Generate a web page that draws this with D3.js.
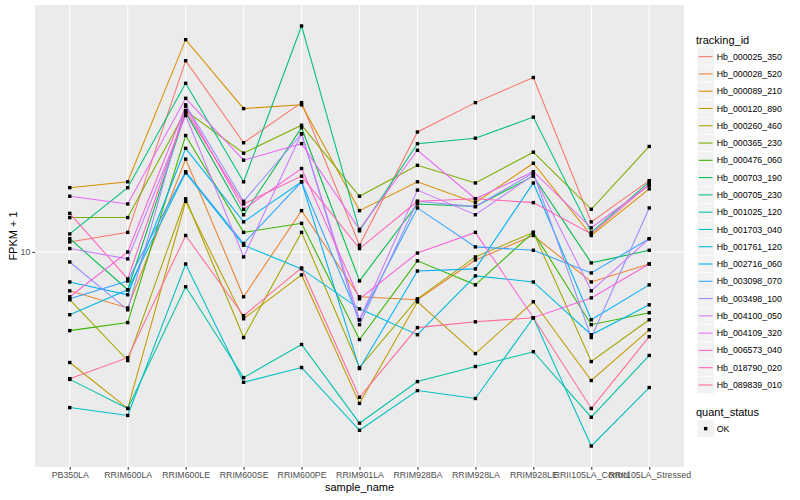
<!DOCTYPE html>
<html>
<head>
<meta charset="utf-8">
<script src="https://cdn.jsdelivr.net/npm/d3@7"></script>
<style>
  body { margin: 0; background: #fff; }
  text { font-family: "Liberation Sans", Arial, sans-serif; }
</style>
</head>
<body>
<div id="chart"></div>
<script>
// samples on the x axis
const samples = ["PB350LA", "RRIM600LA", "RRIM600LE", "RRIM600SE", "RRIM600PE", "RRIM901LA",
  "RRIM928BA", "RRIM928LA", "RRIM928LE", "RRII105LA_Control", "RRII105LA_Stressed"];

// gene ids (legend order)
const trackingIds = ["Hb_000025_350", "Hb_000028_520", "Hb_000089_210", "Hb_000120_890",
  "Hb_000260_460", "Hb_000365_230", "Hb_000476_060", "Hb_000703_190", "Hb_000705_230",
  "Hb_001025_120", "Hb_001703_040", "Hb_001761_120", "Hb_002716_060", "Hb_003098_070",
  "Hb_003498_100", "Hb_004100_050", "Hb_004109_320", "Hb_006573_040", "Hb_018790_020",
  "Hb_089839_010"];

// FPKM + 1, one array per tracking_id, in sample order
const hb000025_350 = [10.6, 11.2, 30.2, 18.8, 23.7, 10.4, 20.0, 23.7, 27.4, 11.9, 15.1];
const hb000028_520 = [7.99, 7.24, 17.1, 7.72, 12.7, 7.72, 7.59, 9.55, 11.0, 8.41, 9.33];
const hb000089_210 = [14.5, 15.0, 34.1, 22.9, 23.4, 12.7, 15.0, 13.3, 16.7, 11.0, 14.4];
const hb000120_890 = [5.28, 4.05, 13.4, 6.80, 8.76, 4.17, 7.50, 5.56, 7.50, 4.76, 6.38];
const hb000260_460 = [7.59, 5.34, 13.6, 6.10, 11.2, 5.13, 7.63, 9.72, 11.2, 5.31, 6.76];
const hb000365_230 = [12.2, 12.2, 22.6, 17.7, 20.8, 13.8, 16.5, 14.9, 17.8, 12.8, 18.4];
const hb000476_060 = [6.35, 6.65, 19.6, 11.2, 11.8, 6.03, 9.50, 8.27, 11.2, 6.57, 7.04];
const hb000703_190 = [10.8, 8.04, 22.4, 12.4, 20.5, 8.46, 13.2, 13.0, 15.5, 9.39, 10.1];
const hb000705_230 = [11.1, 14.5, 26.5, 15.0, 36.9, 11.3, 18.7, 19.3, 21.8, 11.2, 15.0];
const hb001025_120 = [4.79, 4.05, 8.18, 4.84, 5.86, 3.72, 4.73, 5.16, 5.62, 3.85, 5.50];
const hb001703_040 = [4.07, 3.89, 9.33, 4.71, 5.13, 3.57, 4.49, 4.29, 6.84, 3.26, 4.57];
const hb001761_120 = [6.96, 8.04, 15.8, 10.4, 9.07, 7.20, 6.20, 8.71, 8.41, 6.20, 7.37];
const hb002716_060 = [8.41, 7.81, 18.2, 11.9, 15.0, 5.10, 8.96, 9.07, 14.9, 6.76, 8.27];
const hb003098_070 = [7.63, 8.46, 15.9, 10.5, 15.0, 6.76, 12.9, 10.3, 10.1, 8.86, 10.8];
const hb003498_100 = [9.44, 7.16, 23.4, 13.4, 19.8, 6.57, 13.4, 13.0, 15.8, 6.10, 12.9];
const hb004100_050 = [10.2, 9.61, 22.0, 9.72, 19.8, 6.76, 14.3, 12.4, 15.6, 7.99, 10.8];
const hb004109_320 = [13.8, 13.2, 24.3, 17.0, 18.7, 11.4, 18.0, 13.6, 15.9, 11.5, 14.7];
const hb006573_040 = [7.72, 10.0, 23.2, 12.8, 16.2, 7.63, 9.94, 11.2, 6.84, 7.67, 9.33];
const hb018790_020 = [12.5, 8.56, 22.6, 13.2, 15.5, 10.2, 13.4, 13.6, 13.3, 11.1, 14.8];
const hb089839_010 = [4.81, 5.43, 11.0, 6.92, 9.12, 4.32, 6.46, 6.68, 6.84, 4.05, 6.13];

const seriesValues = [hb000025_350, hb000028_520, hb000089_210, hb000120_890, hb000260_460,
  hb000365_230, hb000476_060, hb000703_190, hb000705_230, hb001025_120, hb001703_040,
  hb001761_120, hb002716_060, hb003098_070, hb003498_100, hb004100_050, hb004109_320,
  hb006573_040, hb018790_020, hb089839_010];

const yTicks = [10];
const statusLevels = ["OK"];

// ggplot2 default hue palette for 20 levels
const colors = ["#F8766D", "#EA8331", "#D89000", "#C09B00", "#A3A500", "#7CAE00", "#39B600",
  "#00BB4E", "#00BF7D", "#00C1A3", "#00BFC4", "#00BAE0", "#00B0F6", "#35A2FF", "#9590FF",
  "#C77CFF", "#E76BF3", "#FA62DB", "#FF62BC", "#FF6C91"];

const W = 800, H = 500;
const panel = { left: 35, right: 684, top: 5, bottom: 467 };
const pt = 3.4; // point square size

const svg = d3.select("#chart").append("svg")
  .attr("width", W).attr("height", H);

// Scales
const x = d3.scalePoint().domain(samples)
  .range([panel.left, panel.right]).padding(0.6);

const allVals = seriesValues.flat();
const lmin = Math.log10(d3.min(allVals)), lmax = Math.log10(d3.max(allVals));
const ex = (lmax - lmin) * 0.05;
const y = d3.scaleLog()
  .domain([Math.pow(10, lmin - ex), Math.pow(10, lmax + ex)])
  .range([panel.bottom, panel.top]);

// Panel background + grid
svg.append("rect")
  .attr("x", panel.left).attr("y", panel.top)
  .attr("width", panel.right - panel.left).attr("height", panel.bottom - panel.top)
  .attr("fill", "#EBEBEB");

svg.append("g").selectAll("line").data(samples).enter().append("line")
  .attr("x1", d => x(d)).attr("x2", d => x(d))
  .attr("y1", panel.top).attr("y2", panel.bottom)
  .attr("stroke", "#fff").attr("stroke-width", 1.07);

svg.append("g").selectAll("line").data(yTicks).enter().append("line")
  .attr("x1", panel.left).attr("x2", panel.right)
  .attr("y1", d => y(d)).attr("y2", d => y(d))
  .attr("stroke", "#fff").attr("stroke-width", 1.07);

// Axes
const xAxis = svg.append("g")
  .attr("transform", "translate(0," + panel.bottom + ")")
  .call(d3.axisBottom(x).tickSize(2.7).tickPadding(2));
const yAxis = svg.append("g")
  .attr("transform", "translate(" + panel.left + ",0)")
  .call(d3.axisLeft(y).tickValues(yTicks).tickFormat(d3.format("d")).tickSize(2.7).tickPadding(2));

[xAxis, yAxis].forEach(function (g) {
  g.select(".domain").remove();
  g.selectAll(".tick line").attr("stroke", "#333333").attr("stroke-width", 1.07);
  g.selectAll(".tick text").attr("fill", "#4D4D4D")
    .style("font-size", "8.8px").style("font-family", "'Liberation Sans', Arial, sans-serif");
});

// Lines
const line = d3.line()
  .x((d, i) => x(samples[i]))
  .y(d => y(d));

svg.append("g").selectAll("path").data(seriesValues).enter().append("path")
  .attr("d", d => line(d))
  .attr("fill", "none")
  .attr("stroke", (d, i) => colors[i])
  .attr("stroke-width", 1.07);

// Points (quant_status = OK, all black squares)
svg.append("g").selectAll("g").data(seriesValues).enter().append("g")
  .selectAll("rect").data(d => d).enter().append("rect")
  .attr("x", (d, i) => x(samples[i]) - pt / 2)
  .attr("y", d => y(d) - pt / 2)
  .attr("width", pt).attr("height", pt)
  .attr("fill", "#000");

// Axis titles
svg.append("text")
  .attr("x", (panel.left + panel.right) / 2).attr("y", 491)
  .attr("text-anchor", "middle").style("font-size", "11px")
  .text("sample_name");

svg.append("text")
  .attr("transform", "translate(17," + ((panel.top + panel.bottom) / 2) + ") rotate(-90)")
  .attr("text-anchor", "middle").style("font-size", "11px")
  .text("FPKM + 1");

// Legend: tracking_id
const legX = 697, keySize = 17.28;
const leg = svg.append("g");
leg.append("text").attr("x", legX - 1).attr("y", 44)
  .style("font-size", "11px").text("tracking_id");

const items = leg.selectAll("g.item").data(trackingIds).enter().append("g")
  .attr("class", "item")
  .attr("transform", (d, i) => "translate(" + legX + "," + (48 + i * keySize) + ")");
items.append("rect").attr("width", keySize).attr("height", keySize)
  .attr("fill", "#F2F2F2").attr("stroke", "#fff").attr("stroke-width", 0.5);
items.append("line").attr("x1", 1.7).attr("x2", keySize - 1.7)
  .attr("y1", keySize / 2).attr("y2", keySize / 2)
  .attr("stroke", (d, i) => colors[i]).attr("stroke-width", 1.07);
items.append("text").attr("x", keySize + 2.5).attr("y", keySize / 2 + 3.1)
  .style("font-size", "8.8px").text(d => d);

// Legend: quant_status
const leg2 = svg.append("g");
leg2.append("text").attr("x", legX - 1).attr("y", 416)
  .style("font-size", "11px").text("quant_status");
const items2 = leg2.selectAll("g.item").data(statusLevels).enter().append("g")
  .attr("transform", (d, i) => "translate(" + legX + "," + (420 + i * keySize) + ")");
items2.append("rect").attr("width", keySize).attr("height", keySize)
  .attr("fill", "#F2F2F2").attr("stroke", "#fff").attr("stroke-width", 0.5);
items2.append("rect").attr("x", keySize / 2 - pt / 2).attr("y", keySize / 2 - pt / 2)
  .attr("width", pt).attr("height", pt).attr("fill", "#000");
items2.append("text").attr("x", keySize + 2.5).attr("y", keySize / 2 + 3.1)
  .style("font-size", "8.8px").text(d => d);
</script>
</body>
</html>
